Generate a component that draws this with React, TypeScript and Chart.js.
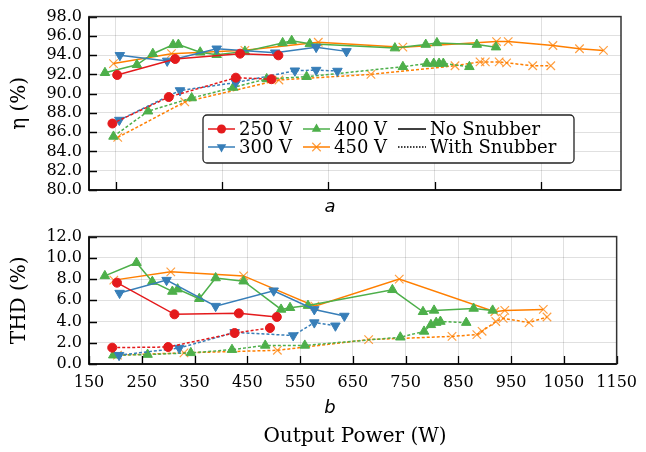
import React, { useEffect, useRef } from "react";
import { Chart, registerables } from "chart.js";

Chart.register(...registerables);

// ---------- axes ----------
const X_MIN = 150;
const X_MAX = 1150;
const TOP_X_TICKS = [200, 400, 600, 800, 1000];
const BOTTOM_X_TICKS = [150, 250, 350, 450, 550, 650, 750, 850, 950, 1050, 1150];
const ETA_TICKS = [80, 82, 84, 86, 88, 90, 92, 94, 96, 98];
const THD_TICKS = [0, 2, 4, 6, 8, 10, 12];

// ---------- labels ----------
const VOLTAGES = ["250 V", "300 V", "400 V", "450 V"];
const SNUB_LABELS = ["No Snubber", "With Snubber"];

// ---------- output power (W) ----------
const P250 = [203, 312, 434, 506];
const P250_SN = [194, 300, 426, 493];
const P300 = [208, 297, 390, 500, 577, 634];
const P300_SN = [207, 321, 426, 537, 577, 617];
const P400 = [180, 240, 270, 308, 318, 359, 390, 443, 514, 531, 565, 725, 783, 804, 879, 915];
const P400_SN = [196, 261, 343, 421, 484, 559, 740, 785, 798, 808, 816, 865];
const P450_ETA = [196, 305, 443, 581, 740, 916, 938, 1022, 1072, 1117];
const P450_THD = [197, 305, 443, 578, 738, 919, 938, 1011];
const P450_SN = [204, 330, 507, 680, 838, 885, 895, 921, 935, 984, 1018];

// ---------- efficiency (%) ----------
const ETA_250 = [91.94, 93.6, 94.15, 93.98];
const ETA_250_SN = [86.9, 89.65, 91.66, 91.5];
const ETA_300 = [93.98, 93.4, 94.66, 94.25, 94.83, 94.39];
const ETA_300_SN = [87.26, 90.33, 91.15, 92.38, 92.45, 92.35];
const ETA_400 = [92.17, 93.0, 94.15, 95.07, 95.1, 94.3, 94.04, 94.39, 95.27, 95.5, 95.17, 94.73, 95.1, 95.27, 95.1, 94.83];
const ETA_400_SN = [85.56, 88.18, 89.55, 90.64, 91.53, 91.76, 92.79, 93.13, 93.13, 93.13, 93.13, 92.79];
const ETA_450 = [93.12, 94.15, 94.5, 95.34, 94.83, 95.41, 95.41, 95.0, 94.66, 94.49];
const ETA_450_SN = [85.46, 89.14, 91.42, 92.0, 92.9, 93.3, 93.3, 93.3, 93.2, 92.9, 92.9];

// ---------- THD (%) ----------
const THD_250 = [7.66, 4.68, 4.77, 4.43];
const THD_250_SN = [1.54, 1.6, 2.92, 3.39];
const THD_300 = [6.68, 7.9, 5.45, 6.9, 5.14, 4.52];
const THD_300_SN = [0.83, 1.5, 2.98, 2.68, 3.9, 3.6];
const THD_400 = [8.3, 9.54, 7.76, 6.83, 7.05, 6.15, 8.1, 7.8, 5.14, 5.3, 5.5, 6.99, 4.92, 5.05, 5.23, 5.05];
const THD_400_SN = [0.83, 0.89, 1.05, 1.35, 1.75, 1.75, 2.52, 3.07, 3.69, 3.9, 4.0, 3.9];
const THD_450 = [7.9, 8.68, 8.3, 5.45, 8.0, 4.92, 5.05, 5.14];
const THD_450_SN = [0.83, 1.05, 1.29, 2.3, 2.6, 2.77, 3.08, 4.0, 4.3, 3.9, 4.43];

// ---------- styles ----------
const RED = "#e41a1c";
const BLUE = "#377eb8";
const GREEN = "#4daf4a";
const ORANGE = "#ff7f00";
const ORANGE_MARK = "rgba(255,127,0,0.75)";
const DASH = [3, 2];
const SERIF = "'DejaVu Serif', serif";
const SANS = "'DejaVu Sans', sans-serif";
const GRID = "rgba(0,0,0,0.12)";

type Marker = { style: string; radius: number; rotation: number; width: number; color?: string };
const M_CIRCLE: Marker = { style: "circle", radius: 4.5, rotation: 0, width: 1 };
const M_DOWN: Marker = { style: "triangle", radius: 5.5, rotation: 180, width: 1 };
const M_UP: Marker = { style: "triangle", radius: 5.5, rotation: 0, width: 1 };
const M_X: Marker = { style: "crossRot", radius: 6, rotation: 0, width: 1.2, color: ORANGE_MARK };

function series(label: string, xs: number[], ys: number[], color: string, m: Marker, dashed: boolean) {
  return {
    label,
    data: xs.map((x, i) => ({ x, y: ys[i] })),
    borderColor: color,
    backgroundColor: color,
    borderWidth: 1.5,
    borderDash: dashed ? DASH : [],
    pointStyle: m.style,
    pointRadius: m.radius,
    pointRotation: m.rotation,
    pointBorderWidth: m.width,
    pointBackgroundColor: m.color || color,
    pointBorderColor: m.color || color,
    tension: 0,
    fill: false,
    showLine: true,
  };
}

type Caption = { text: string; x: number; y: number; font: string };

function drawMarker(ctx: CanvasRenderingContext2D, m: Marker, color: string, x: number, y: number) {
  ctx.save();
  ctx.fillStyle = m.color || color;
  ctx.strokeStyle = m.color || color;
  ctx.lineWidth = m.width;
  ctx.setLineDash([]);
  ctx.beginPath();
  if (m.style === "circle") {
    ctx.arc(x, y, m.radius, 0, Math.PI * 2);
    ctx.fill();
  } else if (m.style === "triangle") {
    let rad = (m.rotation * Math.PI) / 180;
    for (let k = 0; k < 3; k++) {
      const px = x + Math.sin(rad) * m.radius;
      const py = y - Math.cos(rad) * m.radius;
      if (k === 0) ctx.moveTo(px, py);
      else ctx.lineTo(px, py);
      rad += (2 * Math.PI) / 3;
    }
    ctx.closePath();
    ctx.fill();
  } else {
    const d = m.radius * Math.SQRT1_2;
    ctx.moveTo(x - d, y - d);
    ctx.lineTo(x + d, y + d);
    ctx.moveTo(x - d, y + d);
    ctx.lineTo(x + d, y - d);
    ctx.stroke();
  }
  ctx.restore();
}

function decor(id: string, xTicks: number[], yTicks: number[], captions: Caption[], legend: boolean) {
  return {
    id,
    afterDatasetsDraw(chart: any) {
      const { ctx, chartArea: a, scales } = chart;
      ctx.save();
      ctx.setLineDash([]);
      ctx.strokeStyle = "#000";
      ctx.lineWidth = 1.3;
      ctx.beginPath();
      xTicks.forEach((v) => {
        const px = Math.round(scales.x.getPixelForValue(v)) + 0.5;
        ctx.moveTo(px, a.bottom);
        ctx.lineTo(px, a.bottom - 8);
      });
      yTicks.forEach((v) => {
        const py = Math.round(scales.y.getPixelForValue(v)) + 0.5;
        ctx.moveTo(a.left, py);
        ctx.lineTo(a.left + 8, py);
      });
      ctx.stroke();
      ctx.strokeStyle = "#333";
      ctx.lineWidth = 1.5;
      ctx.strokeRect(a.left, a.top, a.right - a.left, a.bottom - a.top);
      ctx.strokeStyle = "#000";
      ctx.beginPath();
      ctx.moveTo(a.left, a.top);
      ctx.lineTo(a.left, a.bottom);
      ctx.lineTo(a.right, a.bottom);
      ctx.stroke();
      ctx.restore();
    },
    afterDraw(chart: any) {
      const { ctx } = chart;
      ctx.save();
      ctx.fillStyle = "#000";
      ctx.textAlign = "center";
      ctx.textBaseline = "middle";
      captions.forEach((c) => {
        ctx.font = c.font;
        ctx.fillText(c.text, c.x, c.y);
      });
      ctx.restore();
      if (!legend) return;
      // legend box
      const bx = 203, by = 115, bw = 371, bh = 48, r = 4;
      ctx.save();
      ctx.beginPath();
      ctx.moveTo(bx + r, by);
      ctx.arcTo(bx + bw, by, bx + bw, by + bh, r);
      ctx.arcTo(bx + bw, by + bh, bx, by + bh, r);
      ctx.arcTo(bx, by + bh, bx, by, r);
      ctx.arcTo(bx, by, bx + bw, by, r);
      ctx.closePath();
      ctx.fillStyle = "rgba(255,255,255,0.95)";
      ctx.fill();
      ctx.strokeStyle = "#222";
      ctx.lineWidth = 1.3;
      ctx.stroke();
      const cols = [208, 303, 398];
      const rows = [129, 147];
      const volt = [
        { label: VOLTAGES[0], color: RED, m: M_CIRCLE, c: 0, r: 0 },
        { label: VOLTAGES[1], color: BLUE, m: M_DOWN, c: 0, r: 1 },
        { label: VOLTAGES[2], color: GREEN, m: M_UP, c: 1, r: 0 },
        { label: VOLTAGES[3], color: ORANGE, m: M_X, c: 1, r: 1 },
      ];
      ctx.font = "18px " + SERIF;
      ctx.textAlign = "left";
      ctx.textBaseline = "middle";
      volt.forEach((e) => {
        const x0 = cols[e.c];
        const y0 = rows[e.r];
        ctx.strokeStyle = e.color;
        ctx.lineWidth = 1.5;
        ctx.setLineDash([]);
        ctx.beginPath();
        ctx.moveTo(x0, y0);
        ctx.lineTo(x0 + 27, y0);
        ctx.stroke();
        drawMarker(ctx, e.m, e.color, x0 + 13.5, y0);
        ctx.fillStyle = "#000";
        ctx.fillText(e.label, x0 + 31, y0 + 1);
      });
      SNUB_LABELS.forEach((lab, i) => {
        const x0 = cols[2];
        const y0 = rows[i];
        ctx.strokeStyle = "#000";
        ctx.lineWidth = 1.5;
        ctx.setLineDash(i === 0 ? [] : [1.5, 1.5]);
        ctx.beginPath();
        ctx.moveTo(x0, y0);
        ctx.lineTo(x0 + 28, y0);
        ctx.stroke();
        ctx.setLineDash([]);
        ctx.fillStyle = "#000";
        ctx.fillText(lab, x0 + 32, y0 + 1);
      });
      ctx.restore();
    },
  };
}

function makeConfig(opts: {
  datasets: any[];
  xTicks: number[];
  showXLabels: boolean;
  xHeight: number;
  yMin: number;
  yMax: number;
  yTicks: number[];
  yTitle: string;
  captions: Caption[];
  legend: boolean;
  id: string;
}): any {
  return {
    type: "line",
    data: { datasets: opts.datasets },
    options: {
      responsive: false,
      animation: false,
      layout: { padding: { top: 14, right: 25, left: 0, bottom: 0 } },
      plugins: { legend: { display: false }, tooltip: { enabled: false } },
      scales: {
        x: {
          type: "linear",
          min: X_MIN,
          max: X_MAX,
          afterBuildTicks: (s: any) => {
            s.ticks = opts.xTicks.map((v) => ({ value: v }));
          },
          afterFit: (s: any) => {
            s.height = opts.xHeight;
          },
          grid: { color: GRID, lineWidth: 1, drawTicks: false },
          border: { display: false },
          ticks: {
            display: opts.showXLabels,
            autoSkip: false,
            maxRotation: 0,
            padding: 9,
            color: "#000",
            font: { family: SERIF, size: 16 },
            callback: (v: any) => String(v),
          },
        },
        y: {
          type: "linear",
          min: opts.yMin,
          max: opts.yMax,
          afterBuildTicks: (s: any) => {
            s.ticks = opts.yTicks.map((v) => ({ value: v }));
          },
          afterFit: (s: any) => {
            s.width = 89;
          },
          grid: { color: GRID, lineWidth: 1, drawTicks: false },
          border: { display: false },
          ticks: {
            autoSkip: false,
            padding: 7,
            color: "#000",
            font: { family: SERIF, size: 16 },
            callback: (v: any) => Number(v).toFixed(1),
          },
          title: {
            display: true,
            text: opts.yTitle,
            color: "#000",
            font: { family: SERIF, size: 20 },
            padding: { top: 8, bottom: 0 },
          },
        },
      },
    },
    plugins: [decor(opts.id, opts.xTicks, opts.yTicks, opts.captions, opts.legend)],
  };
}

export default function App() {
  const topRef = useRef<HTMLCanvasElement>(null);
  const botRef = useRef<HTMLCanvasElement>(null);

  useEffect(() => {
    const topSets = [
      series(VOLTAGES[0], P250, ETA_250, RED, M_CIRCLE, false),
      series(VOLTAGES[0], P250_SN, ETA_250_SN, RED, M_CIRCLE, true),
      series(VOLTAGES[1], P300, ETA_300, BLUE, M_DOWN, false),
      series(VOLTAGES[1], P300_SN, ETA_300_SN, BLUE, M_DOWN, true),
      series(VOLTAGES[2], P400, ETA_400, GREEN, M_UP, false),
      series(VOLTAGES[2], P400_SN, ETA_400_SN, GREEN, M_UP, true),
      series(VOLTAGES[3], P450_ETA, ETA_450, ORANGE, M_X, false),
      series(VOLTAGES[3], P450_SN, ETA_450_SN, ORANGE, M_X, true),
    ];
    const botSets = [
      series(VOLTAGES[0], P250, THD_250, RED, M_CIRCLE, false),
      series(VOLTAGES[0], P250_SN, THD_250_SN, RED, M_CIRCLE, true),
      series(VOLTAGES[1], P300, THD_300, BLUE, M_DOWN, false),
      series(VOLTAGES[1], P300_SN, THD_300_SN, BLUE, M_DOWN, true),
      series(VOLTAGES[2], P400, THD_400, GREEN, M_UP, false),
      series(VOLTAGES[2], P400_SN, THD_400_SN, GREEN, M_UP, true),
      series(VOLTAGES[3], P450_THD, THD_450, ORANGE, M_X, false),
      series(VOLTAGES[3], P450_SN, THD_450_SN, ORANGE, M_X, true),
    ];
    const top = new Chart(
      topRef.current as HTMLCanvasElement,
      makeConfig({
        id: "decorTop",
        datasets: topSets,
        xTicks: TOP_X_TICKS,
        showXLabels: false,
        xHeight: 30,
        yMin: ETA_TICKS[0],
        yMax: ETA_TICKS[ETA_TICKS.length - 1],
        yTicks: ETA_TICKS,
        yTitle: "η (%)",
        captions: [{ text: "a", x: 330, y: 207, font: "italic 18px " + SANS }],
        legend: true,
      })
    );
    const bot = new Chart(
      botRef.current as HTMLCanvasElement,
      makeConfig({
        id: "decorBot",
        datasets: botSets,
        xTicks: BOTTOM_X_TICKS,
        showXLabels: true,
        xHeight: 88,
        yMin: THD_TICKS[0],
        yMax: THD_TICKS[THD_TICKS.length - 1],
        yTicks: THD_TICKS,
        yTitle: "THD (%)",
        captions: [
          { text: "b", x: 330, y: 188, font: "italic 18px " + SANS },
          { text: "Output Power (W)", x: 355, y: 217, font: "20px " + SERIF },
        ],
        legend: false,
      })
    );
    return () => {
      top.destroy();
      bot.destroy();
    };
  }, []);

  return (
    <div style={{ position: "absolute", left: 0, top: 0, width: 646, height: 452, background: "#fff" }}>
      <canvas ref={topRef} width={646} height={220} style={{ position: "absolute", left: 0, top: 0 }} />
      <canvas ref={botRef} width={646} height={232} style={{ position: "absolute", left: 0, top: 220 }} />
    </div>
  );
}
